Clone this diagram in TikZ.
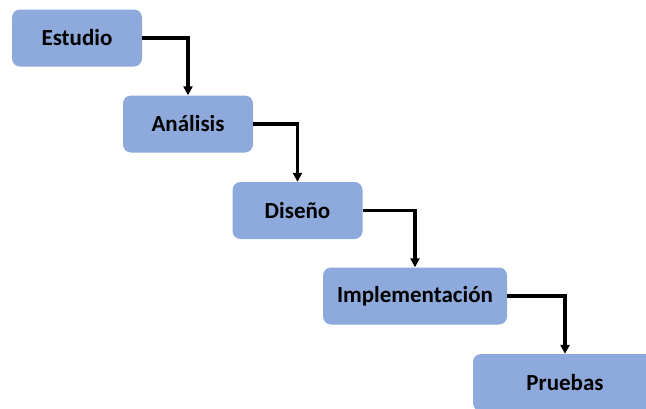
\documentclass[tikz,border=0pt]{standalone}
\usepackage{fontspec}
\setmainfont{Carlito}
\usetikzlibrary{arrows.meta}
\definecolor{stageblue}{RGB}{142,169,219}
\begin{document}
\begin{tikzpicture}[x=1pt,y=-1pt,
  stagebox/.style={fill=stageblue, rounded corners=8pt, minimum height=57pt,
    inner sep=0pt, font=\fontsize{23}{26}\selectfont\bfseries, text=black},
  flow/.style={line width=3.2pt, -{Triangle[length=9pt,width=9pt]}}]
  \clip (0,0) rectangle (646,408);
  \useasboundingbox (0,0) rectangle (646,408);
  \node[stagebox, minimum width=130pt] (est) at (77,38) {Estudio};
  \node[stagebox, minimum width=130pt] (ana) at (188,124) {Análisis};
  \node[stagebox, minimum width=130pt] (dis) at (297.5,210.5) {Diseño};
  \node[stagebox, minimum width=184pt] (imp) at (415,296) {Implementación};
  \node[stagebox, minimum width=184pt] (pru) at (565,382.5) {Pruebas};
  \draw[flow] (est.east) -| (ana.north);
  \draw[flow] (ana.east) -| (dis.north);
  \draw[flow] (dis.east) -| (imp.north);
  \draw[flow] (imp.east) -| (pru.north);
\end{tikzpicture}
\end{document}
